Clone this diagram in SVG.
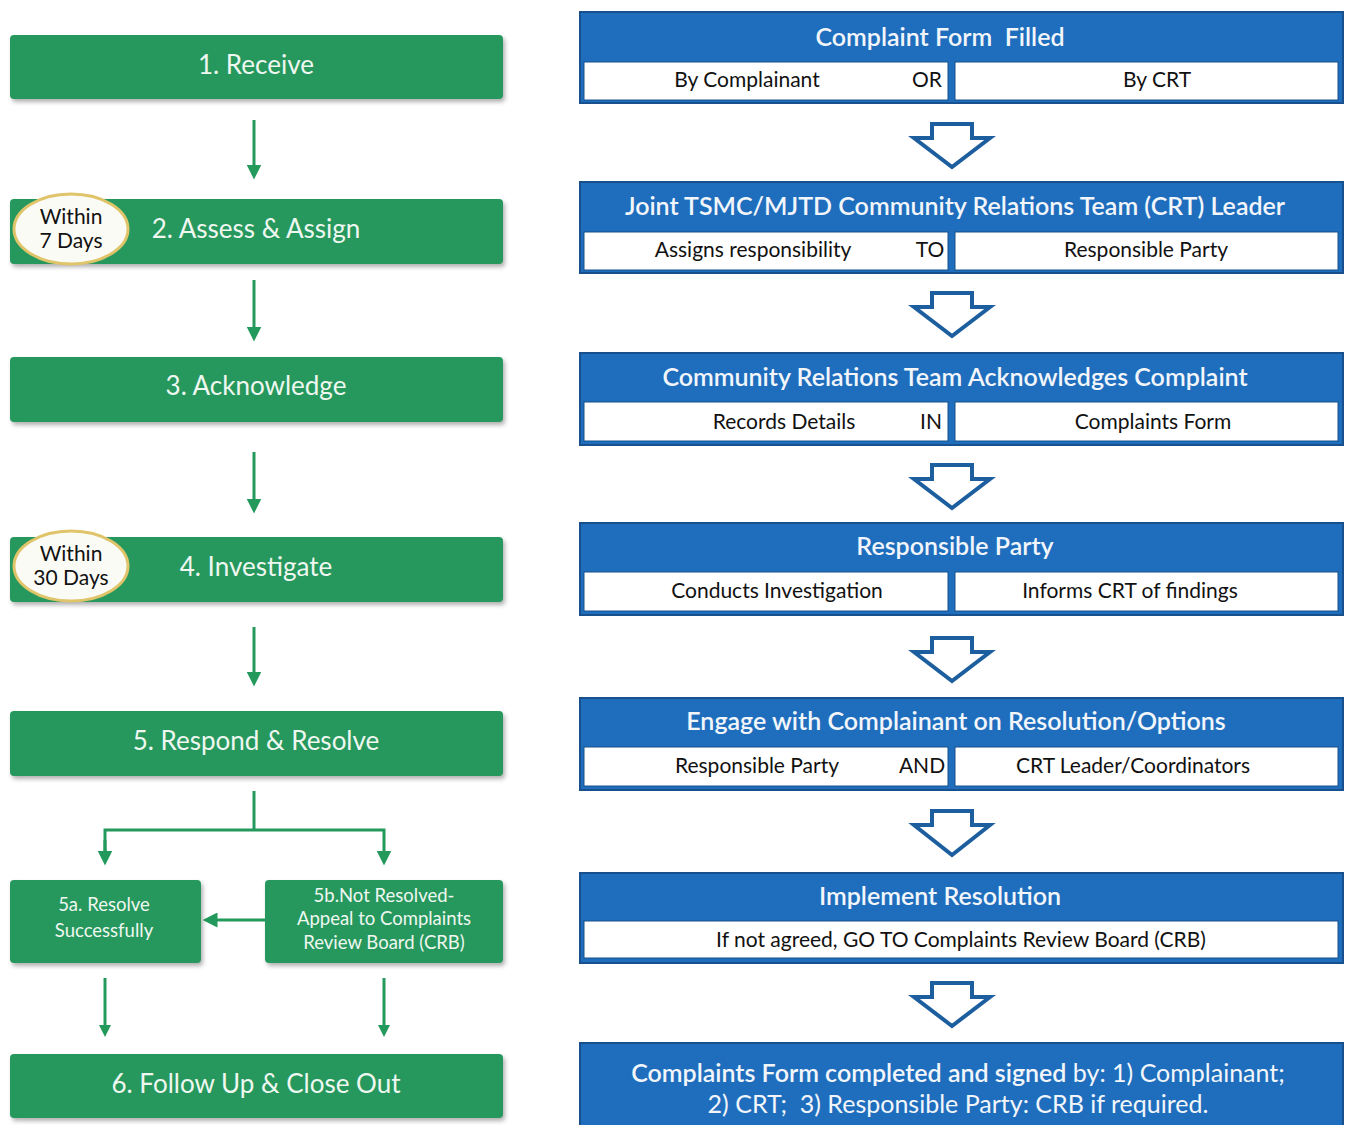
<svg xmlns="http://www.w3.org/2000/svg" width="1346" height="1125" viewBox="0 0 1346 1125">
<defs>
<filter id="sh" x="-5%" y="-20%" width="110%" height="150%">
<feDropShadow dx="2" dy="3" stdDeviation="2" flood-color="#555" flood-opacity="0.45"/>
</filter>
<marker id="ah" viewBox="0 0 10 10" refX="5" refY="5" markerWidth="5" markerHeight="5" orient="auto">
<path d="M0,0 L10,5 L0,10 Z" fill="#239a5c"/>
</marker>
<marker id="ah2" viewBox="0 0 10 10" refX="5" refY="5" markerWidth="4" markerHeight="4.5" orient="auto">
<path d="M0,0 L10,5 L0,10 Z" fill="#239a5c"/>
</marker>
</defs>
<style>
.g{fill:#26985d;filter:url(#sh)}
.gt{font-family:Lato,"Open Sans",sans-serif;font-size:26px;fill:#eef7f0;text-anchor:middle}
.gs{font-family:Lato,"Open Sans",sans-serif;font-size:18.5px;fill:#eef7f0;text-anchor:middle}
.ov{fill:#fbfbf5;stroke:#e0c46a;stroke-width:3}
.ot{font-family:Lato,"Open Sans",sans-serif;font-size:21px;fill:#111;text-anchor:middle}
.b{fill:#1f6ebd;stroke:#17508c;stroke-width:2}
.w{fill:#fff;stroke:#17508c;stroke-width:1}
.bt{font-family:Lato,"Open Sans",sans-serif;font-size:25px;font-weight:600;fill:#f2f6fb;text-anchor:middle;white-space:pre}
.rt{font-family:Lato,"Open Sans",sans-serif;font-size:21px;fill:#111;text-anchor:middle}
.nb{font-weight:400}
.ha{fill:#fff;stroke:#1d5f9e;stroke-width:4;stroke-linejoin:miter}
.cn{stroke:#239a5c;stroke-width:3;fill:none}
</style>
<g id="connectors">
<line class="cn" x1="254" y1="120" x2="254" y2="172" marker-end="url(#ah)"/>
<line class="cn" x1="254" y1="280" x2="254" y2="334" marker-end="url(#ah)"/>
<line class="cn" x1="254" y1="452" x2="254" y2="506" marker-end="url(#ah)"/>
<line class="cn" x1="254" y1="627" x2="254" y2="679" marker-end="url(#ah)"/>
<polyline class="cn" points="254,791 254,830"/>
<polyline class="cn" points="105,858 105,830 384,830 384,858" marker-end="url(#ah)"/>
<line class="cn" x1="105" y1="840" x2="105" y2="858" marker-end="url(#ah)"/>
<line class="cn" x1="265" y1="920" x2="210" y2="920" marker-end="url(#ah)"/>
<line class="cn" x1="105" y1="978" x2="105" y2="1031" marker-end="url(#ah2)"/>
<line class="cn" x1="384" y1="978" x2="384" y2="1031" marker-end="url(#ah2)"/>
<path class="ha" d="M932,124 H972 V138 H990 L952,167 L914,138 H932 Z"/>
<path class="ha" d="M932,293 H972 V307 H990 L952,336 L914,307 H932 Z"/>
<path class="ha" d="M932,465 H972 V479 H990 L952,508 L914,479 H932 Z"/>
<path class="ha" d="M932,638 H972 V652 H990 L952,681 L914,652 H932 Z"/>
<path class="ha" d="M932,811 H972 V825 H990 L952,855 L914,825 H932 Z"/>
<path class="ha" d="M932,983 H972 V997 H990 L952,1026 L914,997 H932 Z"/>
</g>
<g id="n1"><rect class="g" x="10" y="35" width="493" height="64" rx="4"/><text class="gt" x="256" y="74">1. Receive</text></g>
<g id="n2"><rect class="g" x="10" y="199" width="493" height="65" rx="4"/><text class="gt" x="256" y="238">2. Assess &amp; Assign</text>
<ellipse class="ov" cx="71" cy="229" rx="57" ry="35"/><text class="ot" x="71" y="224">Within</text><text class="ot" x="71" y="248">7 Days</text></g>
<g id="n3"><rect class="g" x="10" y="357" width="493" height="65" rx="4"/><text class="gt" x="256" y="395">3. Acknowledge</text></g>
<g id="n4"><rect class="g" x="10" y="537" width="493" height="65" rx="4"/><text class="gt" x="256" y="576">4. Investigate</text>
<ellipse class="ov" cx="71" cy="566" rx="57" ry="35"/><text class="ot" x="71" y="561">Within</text><text class="ot" x="71" y="585">30 Days</text></g>
<g id="n5"><rect class="g" x="10" y="711" width="493" height="65" rx="4"/><text class="gt" x="256" y="750">5. Respond &amp; Resolve</text></g>
<g id="n5a"><rect class="g" x="10" y="880" width="191" height="83" rx="4"/><text class="gs" x="104" y="911">5a. Resolve</text><text class="gs" x="104" y="937">Successfully</text></g>
<g id="n5b"><rect class="g" x="265" y="880" width="238" height="83" rx="4"/><text class="gs" x="384" y="902">5b.Not Resolved-</text><text class="gs" x="384" y="925">Appeal to Complaints</text><text class="gs" x="384" y="949">Review Board (CRB)</text></g>
<g id="n6"><rect class="g" x="10" y="1054" width="493" height="64" rx="4"/><text class="gt" x="256" y="1093">6. Follow Up &amp; Close Out</text></g>

<g id="b1"><rect class="b" x="580" y="12" width="763" height="91"/><text class="bt" x="940" y="46">Complaint Form  Filled</text>
<rect class="w" x="584" y="62" width="364" height="38"/><rect class="w" x="955" y="62" width="383" height="38"/>
<text class="rt" x="747" y="87">By Complainant</text><text class="rt" x="927" y="87">OR</text><text class="rt" x="1157" y="87">By  CRT</text></g>
<g id="b2"><rect class="b" x="580" y="182" width="763" height="91"/><text class="bt" x="955" y="215">Joint TSMC/MJTD Community Relations Team (CRT) Leader</text>
<rect class="w" x="584" y="232" width="364" height="38"/><rect class="w" x="955" y="232" width="383" height="38"/>
<text class="rt" x="753" y="257">Assigns responsibility</text><text class="rt" x="930" y="257">TO</text><text class="rt" x="1146" y="257">Responsible Party</text></g>
<g id="b3"><rect class="b" x="580" y="353" width="763" height="92"/><text class="bt" x="955" y="386">Community Relations Team Acknowledges Complaint</text>
<rect class="w" x="584" y="402" width="364" height="39"/><rect class="w" x="955" y="402" width="383" height="39"/>
<text class="rt" x="784" y="429">Records Details</text><text class="rt" x="931" y="429">IN</text><text class="rt" x="1153" y="429">Complaints Form</text></g>
<g id="b4"><rect class="b" x="580" y="523" width="763" height="92"/><text class="bt" x="955" y="555">Responsible Party</text>
<rect class="w" x="584" y="572" width="364" height="39"/><rect class="w" x="955" y="572" width="383" height="39"/>
<text class="rt" x="777" y="598">Conducts Investigation</text><text class="rt" x="1130" y="598">Informs CRT of findings</text></g>
<g id="b5"><rect class="b" x="580" y="698" width="763" height="92"/><text class="bt" x="956" y="730">Engage with Complainant on Resolution/Options</text>
<rect class="w" x="584" y="747" width="364" height="39"/><rect class="w" x="955" y="747" width="383" height="39"/>
<text class="rt" x="757" y="773">Responsible Party</text><text class="rt" x="922" y="773">AND</text><text class="rt" x="1133" y="773">CRT Leader/Coordinators</text></g>
<g id="b6"><rect class="b" x="580" y="873" width="763" height="90"/><text class="bt" x="940" y="905">Implement Resolution</text>
<rect class="w" x="584" y="921" width="754" height="37"/>
<text class="rt" x="961" y="947">If not agreed, GO TO Complaints Review Board (CRB)</text></g>
<g id="b7"><rect class="b" x="580" y="1043" width="763" height="90"/>
<text class="bt" x="958" y="1082">Complaints Form completed and signed<tspan class="nb"> by: 1) Complainant;</tspan></text>
<text class="bt nb" x="958" y="1113">2) CRT;  3) Responsible Party: CRB if required.</text></g>
</svg>
